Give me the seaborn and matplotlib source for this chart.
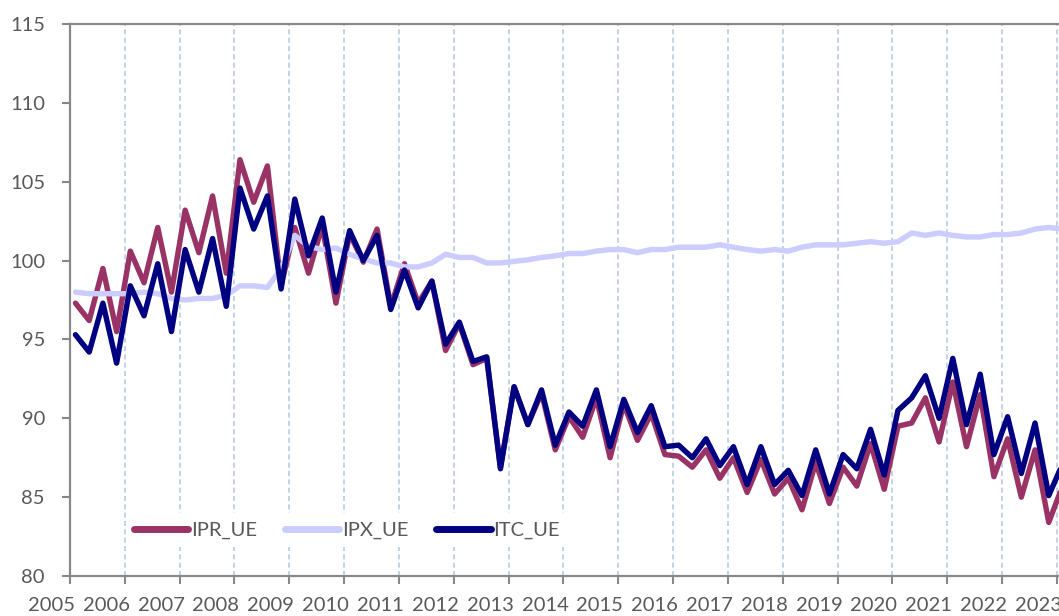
import numpy as np
import pandas as pd
import matplotlib.pyplot as plt
import matplotlib.transforms as mtransforms
import seaborn as sns

# trimestres 2005T1 .. 2023T1
trimestres = pd.period_range('2005Q1', '2023Q1', freq='Q')

ipr_ue = [97.3, 96.2, 99.5, 95.5, 100.6, 98.6, 102.1, 98.0, 103.2, 100.5,
          104.1, 99.2, 106.4, 103.7, 106.0, 98.4, 102.1, 99.2, 102.2, 97.3,
          101.7, 99.9, 102.0, 97.1, 99.8, 97.3, 98.7, 94.3, 96.0, 93.4,
          93.8, 86.9, 92.0, 89.6, 91.6, 88.0, 90.1, 88.8, 91.3, 87.5,
          90.9, 88.6, 90.3, 87.7, 87.6, 86.9, 88.0, 86.2, 87.5, 85.3,
          87.4, 85.2, 86.2, 84.2, 87.2, 84.6, 86.9, 85.7, 88.4, 85.5,
          89.5, 89.7, 91.3, 88.5, 92.3, 88.2, 91.5, 86.3, 88.7, 85.0,
          88.0, 83.4, 85.7]

ipx_ue = [98.0, 97.9, 97.9, 97.9, 97.9, 98.0, 97.9, 97.6, 97.5, 97.6,
          97.6, 97.8, 98.4, 98.4, 98.3, 99.5, 101.6, 100.9, 100.7, 100.8,
          100.4, 100.1, 99.85, 99.85, 99.6, 99.6, 99.85, 100.4, 100.2, 100.2,
          99.85, 99.85, 99.95, 100.05, 100.2, 100.3, 100.45, 100.45, 100.6, 100.7,
          100.7, 100.5, 100.7, 100.7, 100.85, 100.85, 100.85, 101.0, 100.85, 100.7,
          100.6, 100.7, 100.6, 100.85, 101.0, 101.0, 101.0, 101.1, 101.2, 101.1,
          101.2, 101.75, 101.6, 101.75, 101.6, 101.5, 101.5, 101.65, 101.65, 101.75,
          102.0, 102.1, 102.0]

itc_ue = [95.3, 94.2, 97.3, 93.5, 98.4, 96.5, 99.8, 95.5, 100.7, 98.0,
          101.4, 97.1, 104.6, 102.0, 104.1, 98.2, 103.9, 100.3, 102.7, 98.0,
          101.9, 100.0, 101.6, 96.9, 99.4, 97.0, 98.7, 94.7, 96.1, 93.6,
          93.9, 86.8, 92.0, 89.6, 91.8, 88.3, 90.4, 89.5, 91.8, 88.2,
          91.2, 89.1, 90.8, 88.2, 88.3, 87.5, 88.7, 87.0, 88.2, 85.8,
          88.2, 85.8, 86.7, 85.1, 88.0, 85.2, 87.7, 86.8, 89.3, 86.4,
          90.5, 91.3, 92.7, 90.0, 93.8, 89.6, 92.8, 87.7, 90.1, 86.5,
          89.7, 85.1, 87.1]

anos = list(range(2005, 2024))

df = pd.DataFrame({
    'ano': trimestres.year + (trimestres.quarter - 0.6) / 4,
    'IPR_UE': ipr_ue,
    'IPX_UE': ipx_ue,
    'ITC_UE': itc_ue,
})
df_long = df.melt(id_vars='ano', var_name='serie', value_name='indice')

cores = {'IPR_UE': '#993366', 'IPX_UE': '#CCCCFF', 'ITC_UE': '#000080'}
cinza = '#595959'

sns.set_style('white')
plt.rcParams['font.family'] = ['Lato', 'DejaVu Sans']

fig = plt.figure(figsize=(10.59, 6.16), dpi=100)
ax = fig.add_axes([0.0661, 0.0649, 0.9339, 0.8961])

# linhas verticais tracejadas em cada ano
for a in anos[1:]:
    ax.axvline(a, color='#B8CCE4', linewidth=1.2, linestyle=(0, (3, 2)), zorder=0)

sns.lineplot(data=df_long, x='ano', y='indice', hue='serie', palette=cores,
             linewidth=3.9, sort=False, ax=ax,
             solid_capstyle='round', solid_joinstyle='round')

ax.set_xlim(2005, 2023.037)
ax.set_ylim(80, 115)
ax.set_yticks(range(80, 116, 5))
ax.set_xticks(anos)
ax.set_xlabel('')
ax.set_ylabel('')

for lado in ['left', 'bottom', 'top']:
    ax.spines[lado].set_color('#888888')
    ax.spines[lado].set_linewidth(1.6)
ax.spines['right'].set_visible(False)

ax.tick_params(axis='both', direction='out', length=6, width=1.5, color='#888888',
               labelsize=14.5, labelcolor=cinza, left=True, bottom=True)
ax.tick_params(axis='y', pad=12)
ax.tick_params(axis='x', pad=9)

# rótulos dos anos encostados à esquerda da marca (como no Excel)
desloc = mtransforms.ScaledTranslation(5 / 100, 0, fig.dpi_scale_trans)
for lbl in ax.get_xticklabels():
    lbl.set_horizontalalignment('right')
    lbl.set_transform(lbl.get_transform() + desloc)

leg = ax.legend(ncol=3, loc='center', bbox_to_anchor=(0.28, 0.083),
                frameon=True, facecolor='white', edgecolor='none', framealpha=1,
                fontsize=14.5, handlelength=2.7, handletextpad=0.12,
                columnspacing=1.4, borderpad=0.4)
for t in leg.get_texts():
    t.set_color(cinza)
for h in leg.get_lines():
    h.set_linewidth(5)
    h.set_solid_capstyle('round')

plt.savefig('out.png', dpi=100)
